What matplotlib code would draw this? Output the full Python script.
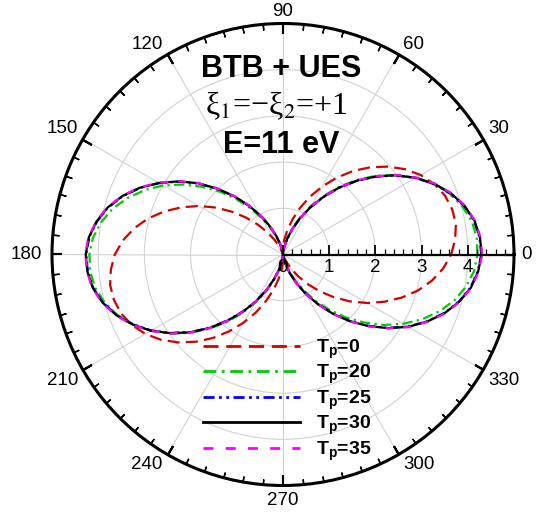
import matplotlib
matplotlib.use('Agg')
import matplotlib.pyplot as plt
import numpy as np

plt.rcParams.update({
    'font.family': 'Liberation Sans',
    'mathtext.fontset': 'custom',
    'mathtext.rm': 'Liberation Sans',
    'mathtext.it': 'Liberation Sans:italic',
    'mathtext.bf': 'Liberation Sans:bold',
})

# ---- data: angular distribution r(theta), theta = 0, 5, ..., 355 deg ----
theta_deg = np.arange(0, 360, 5)

r_tp0 = [3.64, 3.74, 3.80, 3.79, 3.73, 3.61, 3.44, 3.22, 2.96, 2.67,
         2.36, 2.03, 1.70, 1.38, 1.07, 0.78, 0.53, 0.32, 0.16, 0.06,
         0.00, 0.01, 0.07, 0.19, 0.36, 0.58, 0.84, 1.13, 1.44, 1.77,
         2.10, 2.42, 2.73, 3.02, 3.27, 3.48,
         3.64, 3.74, 3.80, 3.79, 3.73, 3.61, 3.44, 3.22, 2.96, 2.67,
         2.36, 2.03, 1.70, 1.38, 1.07, 0.78, 0.53, 0.32, 0.16, 0.06,
         0.00, 0.01, 0.07, 0.19, 0.36, 0.58, 0.84, 1.13, 1.44, 1.77,
         2.10, 2.42, 2.73, 3.02, 3.27, 3.48]

r_tp20 = [4.21, 4.21, 4.15, 4.02, 3.84, 3.60, 3.32, 3.00, 2.66, 2.29,
          1.93, 1.56, 1.22, 0.90, 0.62, 0.38, 0.20, 0.07, 0.01, 0.01,
          0.07, 0.20, 0.38, 0.62, 0.90, 1.21, 1.56, 1.92, 2.28, 2.64,
          2.99, 3.30, 3.58, 3.82, 4.00, 4.13,
          4.19, 4.19, 4.13, 4.00, 3.82, 3.58, 3.30, 2.99, 2.64, 2.28,
          1.92, 1.56, 1.21, 0.90, 0.62, 0.38, 0.20, 0.07, 0.01, 0.01,
          0.07, 0.20, 0.38, 0.62, 0.90, 1.22, 1.56, 1.93, 2.29, 2.66,
          3.00, 3.32, 3.60, 3.84, 4.02, 4.15]

r_tp25 = [4.29, 4.27, 4.20, 4.06, 3.86, 3.61, 3.31, 2.98, 2.62, 2.25,
          1.88, 1.51, 1.17, 0.85, 0.57, 0.34, 0.17, 0.05, 0.00, 0.02,
          0.09, 0.23, 0.43, 0.68, 0.97, 1.29, 1.64, 2.01, 2.39, 2.75,
          3.09, 3.41, 3.69, 3.92, 4.09, 4.21,
          4.26, 4.24, 4.17, 4.03, 3.83, 3.58, 3.29, 2.96, 2.61, 2.24,
          1.86, 1.50, 1.16, 0.85, 0.57, 0.34, 0.17, 0.05, 0.00, 0.02,
          0.09, 0.23, 0.43, 0.68, 0.97, 1.30, 1.66, 2.03, 2.40, 2.77,
          3.12, 3.43, 3.71, 3.94, 4.12, 4.23]

r_tp30 = [4.30, 4.28, 4.21, 4.07, 3.87, 3.62, 3.32, 2.99, 2.63, 2.26,
          1.89, 1.52, 1.17, 0.86, 0.58, 0.35, 0.17, 0.06, 0.00, 0.02,
          0.09, 0.23, 0.43, 0.68, 0.97, 1.30, 1.65, 2.02, 2.40, 2.76,
          3.10, 3.42, 3.70, 3.93, 4.10, 4.22,
          4.27, 4.25, 4.18, 4.04, 3.84, 3.59, 3.30, 2.97, 2.62, 2.25,
          1.87, 1.51, 1.17, 0.85, 0.57, 0.34, 0.17, 0.05, 0.00, 0.02,
          0.09, 0.23, 0.43, 0.68, 0.98, 1.31, 1.67, 2.04, 2.41, 2.78,
          3.13, 3.44, 3.72, 3.95, 4.13, 4.24]

r_tp35 = [4.31, 4.29, 4.22, 4.08, 3.88, 3.63, 3.33, 3.00, 2.64, 2.27,
          1.89, 1.52, 1.18, 0.86, 0.58, 0.35, 0.17, 0.06, 0.00, 0.02,
          0.09, 0.23, 0.43, 0.68, 0.98, 1.31, 1.66, 2.03, 2.41, 2.77,
          3.11, 3.43, 3.71, 3.94, 4.11, 4.23,
          4.28, 4.26, 4.19, 4.05, 3.85, 3.60, 3.31, 2.98, 2.63, 2.26,
          1.88, 1.52, 1.17, 0.86, 0.58, 0.35, 0.17, 0.05, 0.00, 0.02,
          0.09, 0.23, 0.43, 0.69, 0.98, 1.31, 1.67, 2.04, 2.42, 2.79,
          3.14, 3.45, 3.73, 3.96, 4.14, 4.25]

series = [
    ('T$_\\mathbf{p}$=0',  r_tp0,  '#D40000', (0, (5.4, 2.8)), 1.6),
    ('T$_\\mathbf{p}$=20', r_tp20, '#00CC00', (0, (4.6, 2.0, 1.0, 2.0)), 1.6),
    ('T$_\\mathbf{p}$=25', r_tp25, '#0000FF', (0, (4.0, 1.6, 1.0, 1.6, 1.0, 1.6)), 1.6),
    ('T$_\\mathbf{p}$=30', r_tp30, '#000000', '-', 1.6),
    ('T$_\\mathbf{p}$=35', r_tp35, '#FF00FF', (0, (3.6, 4.4)), 1.6),
]

angle_labels = list(range(0, 360, 30))
RMAX = 5

W, H = 541, 513
fig = plt.figure(figsize=(W / 100, H / 100), dpi=100)

cx, cy, R = 283, 254.5, 231
rect = [(cx - R) / W, (H - cy - R) / H, 2 * R / W, 2 * R / H]
ax = fig.add_axes(rect, projection='polar')

th = np.deg2rad(np.append(theta_deg, 360))
for label, r, color, ls, lw in series:
    rr = np.append(r, r[0])
    ax.plot(th, rr, color=color, linestyle=ls, linewidth=lw, label=label)

ax.set_rlim(0, RMAX)
ax.set_rticks([1, 2, 3, 4])
ax.set_yticklabels([])
ax.set_xticks(np.deg2rad(angle_labels))
ax.set_xticklabels([])
ax.tick_params(axis='both', length=0)
ax.grid(True, color='#d2d2d2', linewidth=0.8)
ax.spines['polar'].set_linewidth(2.2)

# inward ticks on the circle, drawn as rotated line markers
for a in range(0, 360, 5):
    major = a % 30 == 0
    tl = 0.22 if major else 0.13
    ax.plot([np.deg2rad(a)], [RMAX - tl / 2], linestyle='none',
            marker=(2, 2, a + 90), markersize=(10 if major else 6) / 1.39,
            markeredgewidth=1.5 if major else 1.0, color='black',
            clip_on=False, zorder=5)

# angle labels just outside the circle
for a in angle_labels:
    c, s = np.cos(np.deg2rad(a)), np.sin(np.deg2rad(a))
    ha = 'left' if c > 0.1 else ('right' if c < -0.1 else 'center')
    va = 'bottom' if s > 0.1 else ('top' if s < -0.1 else 'center')
    off = {0: (5.2, 0), 90: (0, 2.4), 180: (-7.0, 0), 270: (0, -5.0)}.get(
        a, (3.6 * np.sign(c), 1.4 * np.sign(s)))
    ax.annotate(str(a), xy=(np.deg2rad(a), RMAX), xytext=off,
                textcoords='offset points', ha=ha, va=va, fontsize=13.5,
                annotation_clip=False)

# cartesian overlay: radial axis along theta = 0
ax2 = fig.add_axes(rect)
ax2.patch.set_visible(False)
ax2.set_xlim(-RMAX, RMAX)
ax2.set_ylim(-RMAX, RMAX)
for s in ['top', 'left', 'right']:
    ax2.spines[s].set_visible(False)
ax2.spines['bottom'].set_position(('data', 0))
ax2.spines['bottom'].set_bounds(0, RMAX)
ax2.spines['bottom'].set_linewidth(1.6)
ax2.set_xticks([0, 1, 2, 3, 4])
ax2.set_xticks(np.arange(0, 5.01, 0.2), minor=True)
ax2.set_yticks([])
ax2.tick_params(axis='x', which='both', top=False, bottom=True)
ax2.tick_params(axis='x', which='major', direction='in', length=7,
                width=1.3, labelsize=13.5, pad=3)
ax2.tick_params(axis='x', which='minor', direction='in', length=4,
                width=0.9)

# heading
fig.text(281 / W, 1 - 77 / H, 'BTB + UES', ha='center', va='baseline',
         fontsize=22, fontweight='bold')
fig.text(276 / W, 1 - 114 / H, 'ξ$_1$=−ξ$_2$=+1', ha='center',
         va='baseline', fontsize=23, family='Liberation Serif',
         math_fontfamily='stix')
fig.text(281 / W, 1 - 153 / H, 'E=11 eV', ha='center', va='baseline',
         fontsize=22, fontweight='bold')

leg = ax.legend(handles=ax.get_lines()[:len(series)], loc='upper left',
                bbox_to_anchor=(203 / W, 1 - 337.5 / H),
                bbox_transform=fig.transFigure, frameon=False,
                prop={'weight': 'bold', 'size': 14},
                handlelength=5.0, handletextpad=0.8, labelspacing=0.12,
                borderpad=0, borderaxespad=0)
for line in leg.get_lines():
    line.set_linewidth(2.0)

fig.savefig('out.png', dpi=100)
